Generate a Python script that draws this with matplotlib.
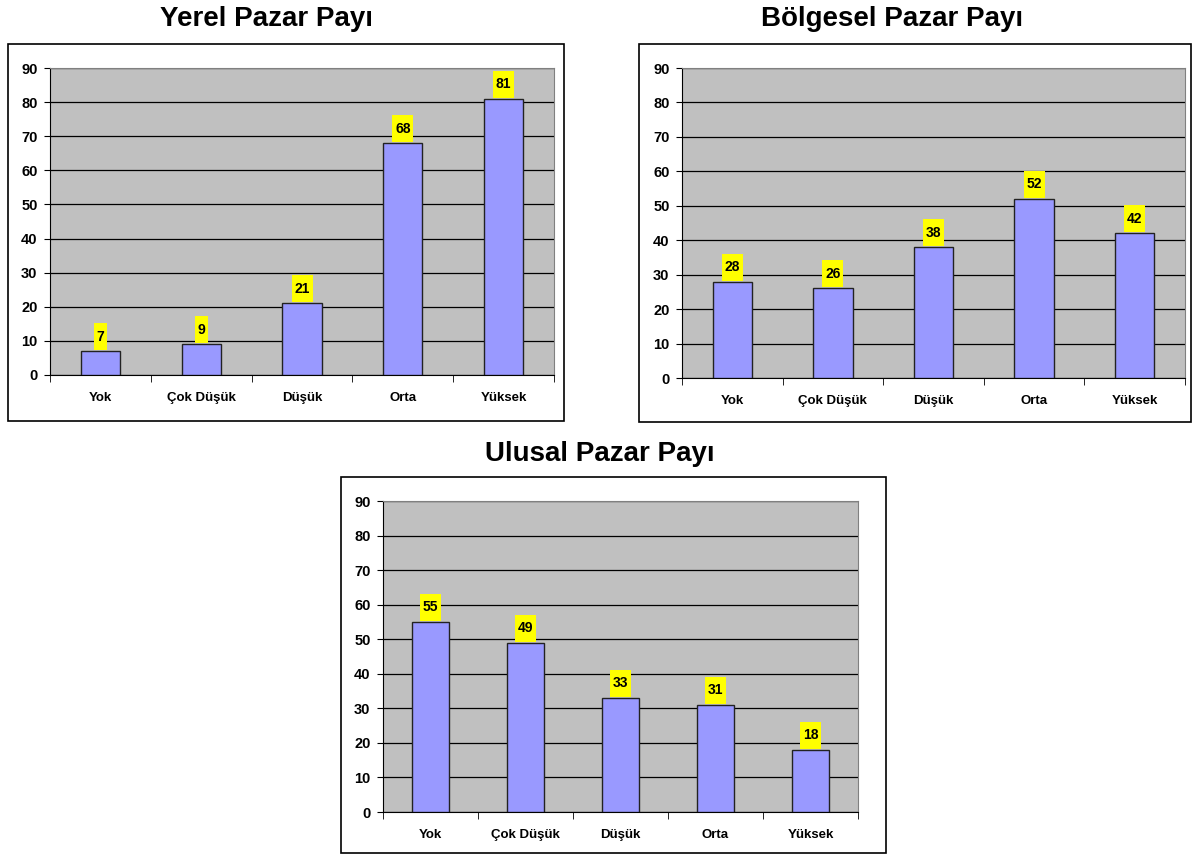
import matplotlib.pyplot as plt
from matplotlib.patches import Rectangle
from matplotlib.transforms import ScaledTranslation
import numpy as np

# data
categories = ['Yok', 'Çok Düşük', 'Düşük', 'Orta', 'Yüksek']
yerel = [7, 9, 21, 68, 81]
bolgesel = [28, 26, 38, 52, 42]
ulusal = [55, 49, 33, 31, 18]
titles = ['Yerel Pazar Payı', 'Bölgesel Pazar Payı', 'Ulusal Pazar Payı']

plt.rcParams['font.family'] = ['Liberation Sans', 'DejaVu Sans']
plt.rcParams['font.weight'] = 'bold'

W, H = 1192, 858
DPI = 100
fig = plt.figure(figsize=(W / DPI, H / DPI), dpi=DPI)


def px(x0, y0, x1, y1):
    # pixel box (top-left origin) -> figure fraction rect
    return [x0 / W, 1 - y1 / H, (x1 - x0) / W, (y1 - y0) / H]


# plot area / chart frame / title centre, in pixels
panels = [
    (yerel, (50, 68, 554, 375), (8, 44, 564, 421), (267, 19)),
    (bolgesel, (682, 68, 1185, 378), (639, 44, 1191, 422), (892, 19)),
    (ulusal, (383, 501, 858, 812), (341, 477, 886, 853), (600, 454)),
]

for (vals, area, frame, tpos), title in zip(panels, titles):
    fig.add_artist(Rectangle((frame[0] / W, 1 - frame[3] / H),
                             (frame[2] - frame[0]) / W, (frame[3] - frame[1]) / H,
                             transform=fig.transFigure, fill=False,
                             edgecolor='black', lw=1.2))
    fig.text(tpos[0] / W, 1 - tpos[1] / H, title, ha='center', va='center',
             fontsize=20, fontweight='bold')

    ax = fig.add_axes(px(*area))
    ax.set_facecolor('#C0C0C0')
    x = np.arange(len(categories))
    ax.bar(x, vals, width=0.39, color='#9999FF', edgecolor='#222222', lw=1, zorder=3)
    ax.set_xlim(-0.5, len(categories) - 0.5)
    ax.set_ylim(0, 90)
    ax.set_yticks(range(0, 91, 10))
    ax.yaxis.grid(True, color='black', lw=0.9, zorder=1)
    ax.set_axisbelow(True)

    ax.set_xticks(x)
    ax.set_xticklabels(categories, fontsize=9.5, fontweight='bold')
    ax.set_xticks(np.arange(-0.5, len(categories)), minor=True)
    ax.tick_params(axis='x', which='major', length=0, pad=12)
    ax.tick_params(axis='x', which='minor', length=5, direction='out', color='black')
    ax.tick_params(axis='y', length=4, direction='out', labelsize=10.5, pad=5)
    for lab in ax.get_yticklabels():
        lab.set_fontweight('bold')

    ax.spines['left'].set_color('black')
    ax.spines['bottom'].set_color('black')
    ax.spines['top'].set_color('#808080')
    ax.spines['right'].set_color('#808080')

    # yellow value labels sitting on top of each bar
    for xi, v in zip(x, vals):
        s = str(v)
        bw = (8 * len(s) + 5) / DPI
        bh = 27 / DPI
        tr = fig.dpi_scale_trans + ScaledTranslation(xi, v, ax.transData)
        ax.add_patch(Rectangle((-bw / 2, 0.01), bw, bh, transform=tr,
                               facecolor='yellow', edgecolor='none', zorder=4,
                               clip_on=False))
        ax.text(0, 0.01 + bh / 2, s, transform=tr, ha='center', va='center',
                fontsize=10, fontweight='bold', zorder=5)

fig.savefig('out.png', dpi=DPI)
